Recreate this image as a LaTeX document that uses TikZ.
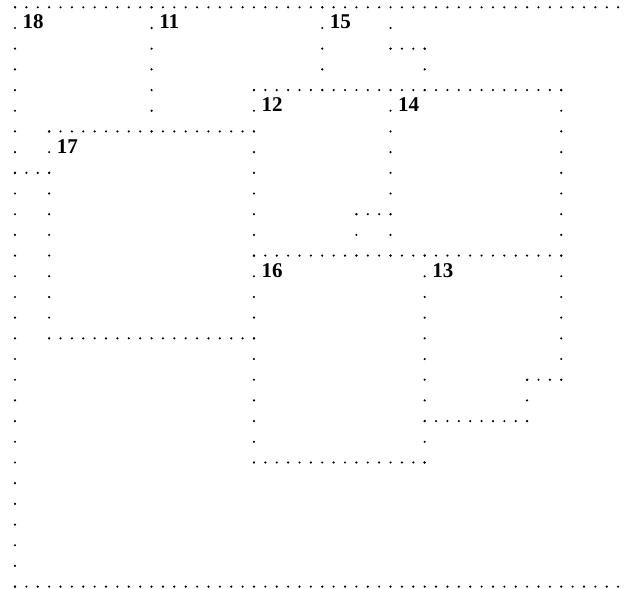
\documentclass[tikz,border=0pt]{standalone}
\usepackage{fontspec}
\setmainfont{Liberation Serif}
\newcommand\hrun[3]{\foreach \c in {#2,...,#3} {\fill ({15+11.38*\c},{7.3+20.69*#1}) circle (1.2pt);}}
\newcommand\vrun[3]{\foreach \r in {#2,...,#3} {\fill ({15+11.38*#1},{7.3+20.69*\r}) circle (1.2pt);}}
\begin{document}
\begin{tikzpicture}[x=1pt,y=-1pt,
  lab/.style={anchor=base west, inner sep=0pt, font=\fontsize{21}{21}\selectfont\bfseries}]
\useasboundingbox (0,0) rectangle (624,589);
% horizontal runs
\hrun{0}{0}{53}
\hrun{2}{33}{36}
\hrun{4}{21}{48}
\hrun{6}{3}{21}
\hrun{8}{0}{3}
\hrun{10}{30}{33}
\hrun{12}{21}{48}
\hrun{16}{3}{21}
\hrun{18}{45}{48}
\hrun{20}{36}{45}
\hrun{22}{21}{36}
\hrun{28}{0}{53}
% vertical runs
\vrun{0}{0}{28}
\vrun{12}{0}{6}
\vrun{27}{0}{4}
\vrun{33}{1}{2}
\vrun{36}{2}{4}
\vrun{21}{4}{22}
\vrun{33}{4}{12}
\vrun{48}{4}{18}
\vrun{3}{6}{16}
\vrun{30}{10}{12}
\vrun{36}{12}{22}
\vrun{45}{18}{20}
% labels
\node[lab] (l18) at ({15+11.38*0+7.5},{7.3+20.69*1+1}) {18};
\node[lab] (l11) at ({15+11.38*12+7.5},{7.3+20.69*1+1}) {11};
\node[lab] (l15) at ({15+11.38*27+7.5},{7.3+20.69*1+1}) {15};
\node[lab] (l12) at ({15+11.38*21+7.5},{7.3+20.69*5+1}) {12};
\node[lab] (l14) at ({15+11.38*33+7.5},{7.3+20.69*5+1}) {14};
\node[lab] (l17) at ({15+11.38*3+7.5},{7.3+20.69*7+1}) {17};
\node[lab] (l16) at ({15+11.38*21+7.5},{7.3+20.69*13+1}) {16};
\node[lab] (l13) at ({15+11.38*36+7.5},{7.3+20.69*13+1}) {13};
\end{tikzpicture}
\end{document}
